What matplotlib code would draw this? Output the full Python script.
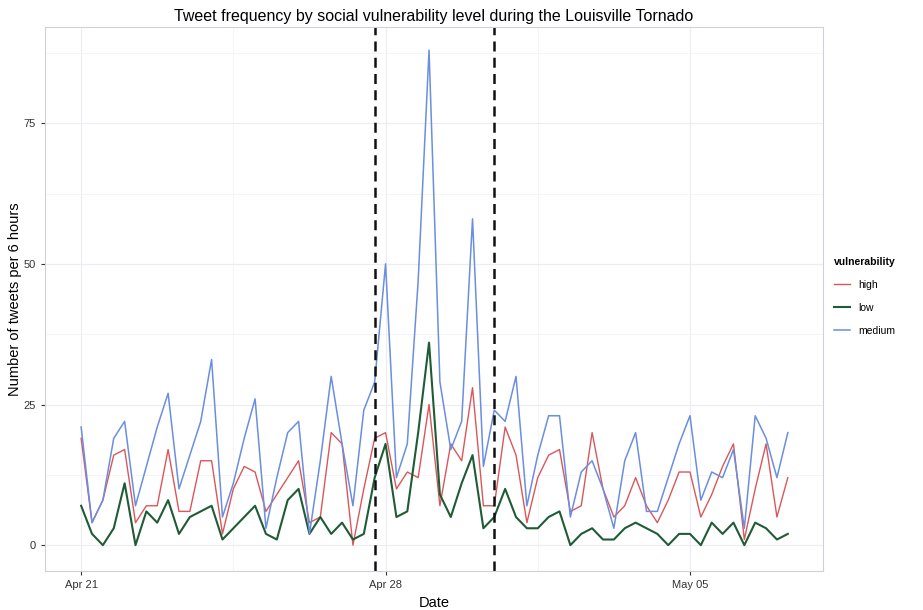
import matplotlib
matplotlib.use("Agg")
import matplotlib.pyplot as plt
import matplotlib.dates as mdates
import numpy as np
import pandas as pd

# 6-hourly tweet counts, Apr 21 2014 00:00 onwards
start = "2014-04-21 00:00"
high = [19, 4, 8, 16, 17, 4, 7, 7, 17, 6, 6, 15, 15, 2, 10, 14, 13, 6, 9, 12,
        15, 4, 5, 20, 18, 0, 10, 19, 20, 10, 13, 12, 25, 7, 18, 15, 28, 7, 7, 21,
        16, 4, 12, 16, 17, 6, 7, 20, 10, 5, 7, 12, 7, 4, 8, 13, 13, 5, 9, 14,
        18, 1, 10, 18, 5, 12]
low = [7, 2, 0, 3, 11, 0, 6, 4, 8, 2, 5, 6, 7, 1, 3, 5, 7, 2, 1, 8,
       10, 2, 5, 2, 4, 1, 2, 12, 18, 5, 6, 20, 36, 9, 5, 11, 16, 3, 5, 10,
       5, 3, 3, 5, 6, 0, 2, 3, 1, 1, 3, 4, 3, 2, 0, 2, 2, 0, 4, 2,
       4, 0, 4, 3, 1, 2]
medium = [21, 4, 8, 19, 22, 7, 14, 21, 27, 10, 16, 22, 33, 5, 11, 19, 26, 3, 12, 20,
          22, 2, 15, 30, 18, 7, 24, 29, 50, 12, 18, 47, 88, 29, 17, 22, 58, 14, 24, 22,
          30, 7, 16, 23, 23, 5, 13, 15, 10, 3, 15, 20, 6, 6, 12, 18, 23, 8, 13, 12,
          17, 3, 23, 19, 12, 20]
event_lines = ["2014-04-27 18:00", "2014-04-30 12:00"]
tick_dates = ["2014-04-21", "2014-04-28", "2014-05-05"]
y_ticks = [0, 25, 50, 75]

times = pd.date_range(start, periods=len(high), freq="6h")

plt.rcParams['font.family'] = ['Liberation Sans', 'DejaVu Sans']
fig = plt.figure(figsize=(9.23, 6.1), dpi=100)
ax = fig.add_axes([0.0488, 0.0639, 0.8429, 0.8918])
ax.set_facecolor('white')

# faint ggplot-like grid
major_x = mdates.date2num(pd.to_datetime(tick_dates))
ax.set_xticks(major_x)
ax.set_xticks(list(major_x[:-1] + 3.5), minor=True)
ax.set_yticks(y_ticks)
ax.set_yticks([12.5, 37.5, 62.5, 87.5], minor=True)

t0 = pd.Timestamp(start)
ax.set_xlim(mdates.date2num(t0 - pd.Timedelta(days=0.83)),
            mdates.date2num(t0 + pd.Timedelta(days=17.06)))
ax.set_ylim(-4.6, 92.1)

ax.grid(True, which='major', color='#ececf2', linewidth=0.8)
ax.grid(True, which='minor', color='#f4f4f8', linewidth=0.6)
ax.set_axisbelow(True)
ax.xaxis.set_major_formatter(mdates.DateFormatter('%b %d'))
ax.tick_params(which='minor', length=0)
ax.tick_params(which='major', length=3, color='#333333', labelsize=8,
               labelcolor='#333333')
for s in ax.spines.values():
    s.set_color('#d0d0dc')
    s.set_linewidth(0.8)

ax.plot(times, high, color='#d9575a', linewidth=1.0, label='high')
ax.plot(times, low, color='#1f5c36', linewidth=1.5, label='low')
ax.plot(times, medium, color='#6a8ee0', linewidth=1.1, label='medium')

for d in event_lines:
    ax.axvline(pd.Timestamp(d), color='#111111', linewidth=1.8,
               linestyle=(0, (4, 2.5)))

ax.set_title("Tweet frequency by social vulnerability level during the Louisville Tornado",
             fontsize=11.5, pad=4)
ax.set_xlabel("Date", fontsize=10.5, labelpad=4)
ax.set_ylabel("Number of tweets per 6 hours", fontsize=10.5, labelpad=1)

leg = fig.legend(loc='upper left', bbox_to_anchor=(0.893, 0.594), frameon=False,
                 title='vulnerability', fontsize=7.5, handlelength=1.6,
                 labelspacing=1.25, alignment='left')
leg.get_title().set_fontsize(7.5)
leg.get_title().set_fontweight('bold')

fig.savefig("out.png", dpi=100)
